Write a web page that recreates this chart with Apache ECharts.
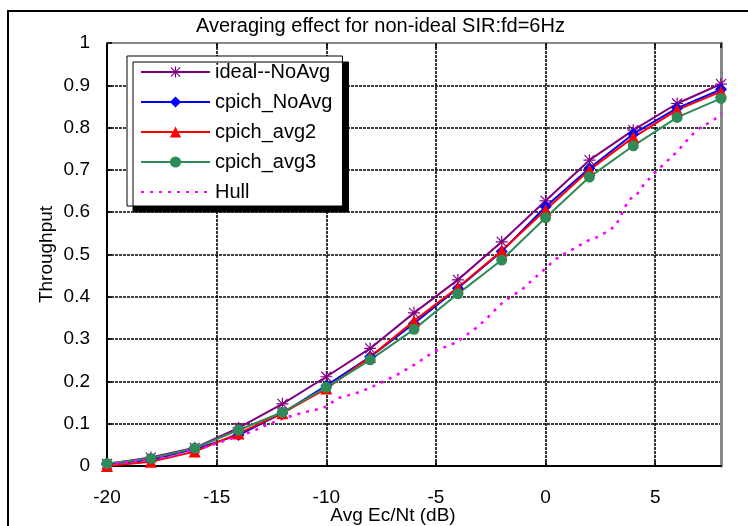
<!DOCTYPE html>
<html>
<head>
<meta charset="utf-8">
<script src="https://cdn.jsdelivr.net/npm/echarts@6/dist/echarts.min.js"></script>
<style>
  html, body { margin: 0; padding: 0; background: #fff; }
  #box { width: 748px; height: 526px; }
</style>
</head>
<body>
<div id="box"></div>
<script>
// x positions of the marked curves (dB)
const xVals = [-20, -18, -16, -14, -12, -10, -8, -6, -4, -2, 0, 2, 4, 6, 8];

const idealNoAvg = [0.005, 0.02, 0.043, 0.09, 0.147, 0.211, 0.278, 0.362, 0.44, 0.53, 0.627, 0.723, 0.794, 0.857, 0.903];
const cpichNoAvg = [0.005, 0.015, 0.04, 0.073, 0.125, 0.19, 0.258, 0.337, 0.42, 0.507, 0.613, 0.704, 0.785, 0.846, 0.89];
const cpichAvg2  = [0.0, 0.01, 0.034, 0.077, 0.125, 0.183, 0.258, 0.343, 0.422, 0.509, 0.605, 0.7, 0.777, 0.842, 0.885];
const cpichAvg3  = [0.006, 0.018, 0.042, 0.085, 0.127, 0.186, 0.251, 0.323, 0.407, 0.487, 0.587, 0.683, 0.757, 0.824, 0.869];

// hull curve, read point by point
const hullX = [-20, -19, -18, -17, -16.4, -15.5, -14.5, -13.4, -12.9, -12, -11, -10.4, -10, -9.5, -9, -8.4, -7.5, -6.8, -6,
  -5.1, -4, -3.6, -3.1, -2.6, -2.1, -1.6, -1.1, -0.6, 0, 0.4, 0.9, 1.4, 1.9, 2.4, 2.8, 3.2, 3.4, 3.8, 4.1, 4.4, 4.6,
  5.0, 5.4, 5.8, 6.1, 6.4, 6.8, 7.0, 7.4, 7.9, 8.0];
const hullY = [0.004, 0.01, 0.016, 0.023, 0.034, 0.045, 0.062, 0.081, 0.093, 0.112, 0.127, 0.134, 0.14, 0.16, 0.167, 0.176, 0.197, 0.215, 0.239,
  0.27, 0.294, 0.31, 0.329, 0.353, 0.38, 0.4, 0.416, 0.44, 0.467, 0.487, 0.503, 0.517, 0.532, 0.542, 0.554, 0.568, 0.589, 0.63, 0.637, 0.66, 0.672,
  0.694, 0.714, 0.733, 0.749, 0.767, 0.789, 0.798, 0.81, 0.826, 0.834];

const names = ['ideal--NoAvg', 'cpich_NoAvg', 'cpich_avg2', 'cpich_avg3', 'Hull'];
const yTicks = ['0', '0.1', '0.2', '0.3', '0.4', '0.5', '0.6', '0.7', '0.8', '0.9', '1'];

const font = "'Liberation Sans', Arial, sans-serif";
const star = 'path://M9,0h2v20h-2z M0,9h20v2h-20z M1,2.4L2.4,1L19,17.6L17.6,19z M17.6,1L19,2.4L2.4,19L1,17.6z';

function pairs(xs, ys) {
  return xs.map((x, i) => [x, ys[i]]);
}

function lineSeries(name, ys, color, symbol, size) {
  return {
    name: name,
    type: 'line',
    data: pairs(xVals, ys),
    symbol: symbol,
    symbolSize: size,
    showAllSymbol: true,
    lineStyle: { color: color, width: 2 },
    itemStyle: { color: color },
    emphasis: { disabled: true }
  };
}

const chart = echarts.init(document.getElementById('box'));

const option = {
  animation: false,
  textStyle: { fontFamily: font },
  title: {
    text: 'Averaging effect for non-ideal SIR:fd=6Hz',
    left: 196,
    top: 16,
    padding: 0,
    textStyle: { fontSize: 20, fontWeight: 'normal', color: '#000', fontFamily: font }
  },
  graphic: [
    {
      type: 'rect',
      shape: { x: 8, y: 11, width: 800, height: 600 },
      style: { fill: 'none', stroke: '#000', lineWidth: 2 },
      silent: true
    }
  ],
  legend: {
    data: names.slice(0, 4).concat([{ name: 'Hull', itemStyle: { opacity: 0 } }]),
    orient: 'vertical',
    left: 127,
    top: 56,
    padding: [6, 10, 4, 13],
    itemWidth: 69,
    itemHeight: 14,
    itemGap: 10,
    backgroundColor: '#fff',
    borderColor: '#000',
    borderWidth: 1,
    borderRadius: 0,
    shadowColor: '#000',
    shadowBlur: 0,
    shadowOffsetX: 6,
    shadowOffsetY: 6,
    textStyle: { fontSize: 20, color: '#000', fontFamily: font }
  },
  grid: { left: 107, right: 27, top: 43, bottom: 60, outerBoundsMode: 'none' },
  xAxis: [
    {
      type: 'value',
      min: -20,
      max: 8,
      interval: 5,
      name: 'Avg Ec/Nt (dB)',
      nameLocation: 'middle',
      nameGap: 40,
      nameMoveOverlap: false,
      nameTextStyle: { fontSize: 19, color: '#000', padding: [0, 42, 0, 0] },
      axisLine: { onZero: false, lineStyle: { color: '#000', width: 2 } },
      axisTick: { inside: true, length: 5, lineStyle: { color: '#000', width: 1.5 } },
      axisLabel: { fontSize: 19, color: '#000', margin: 22, showMaxLabel: false },
      splitLine: { show: true, lineStyle: { color: '#000', width: 1.6, type: [3, 1] } }
    },
    {
      type: 'value',
      position: 'top',
      min: -20,
      max: 8,
      interval: 5,
      axisLine: { onZero: false, lineStyle: { color: '#888', width: 2 } },
      axisTick: { inside: true, length: 5, lineStyle: { color: '#000', width: 1.5 } },
      axisLabel: { show: false },
      splitLine: { show: false }
    }
  ],
  yAxis: [
    {
      type: 'value',
      min: 0,
      max: 1,
      interval: 0.1,
      name: 'Throughput',
      nameLocation: 'middle',
      nameGap: 51,
      nameMoveOverlap: false,
      nameTextStyle: { fontSize: 19, color: '#000' },
      axisLine: { show: true, onZero: false, lineStyle: { color: '#000', width: 2 } },
      axisTick: { show: true, inside: true, length: 5, lineStyle: { color: '#000', width: 1.5 } },
      axisLabel: { fontSize: 19, color: '#000', margin: 17, formatter: (v, i) => yTicks[i] },
      splitLine: { show: true, lineStyle: { color: '#000', width: 1.6, type: [3, 1] } }
    },
    {
      type: 'value',
      position: 'right',
      min: 0,
      max: 1,
      interval: 0.1,
      axisLine: { show: true, onZero: false, lineStyle: { color: '#888', width: 3 } },
      axisTick: { show: false },
      axisLabel: { show: false },
      splitLine: { show: false }
    }
  ],
  series: [
    lineSeries(names[0], idealNoAvg, '#800080', star, 12),
    lineSeries(names[1], cpichNoAvg, '#0000ff', 'diamond', 12),
    lineSeries(names[2], cpichAvg2, '#ff0000', 'triangle', 12),
    lineSeries(names[3], cpichAvg3, '#2e8b57', 'circle', 11),
    {
      name: names[4],
      type: 'line',
      data: pairs(hullX, hullY),
      symbol: 'none',
      lineStyle: { color: '#ff00ff', width: 2.5, type: [3, 6] },
      itemStyle: { color: '#ff00ff' },
      emphasis: { disabled: true }
    }
  ]
};

chart.setOption(option);
</script>
</body>
</html>
